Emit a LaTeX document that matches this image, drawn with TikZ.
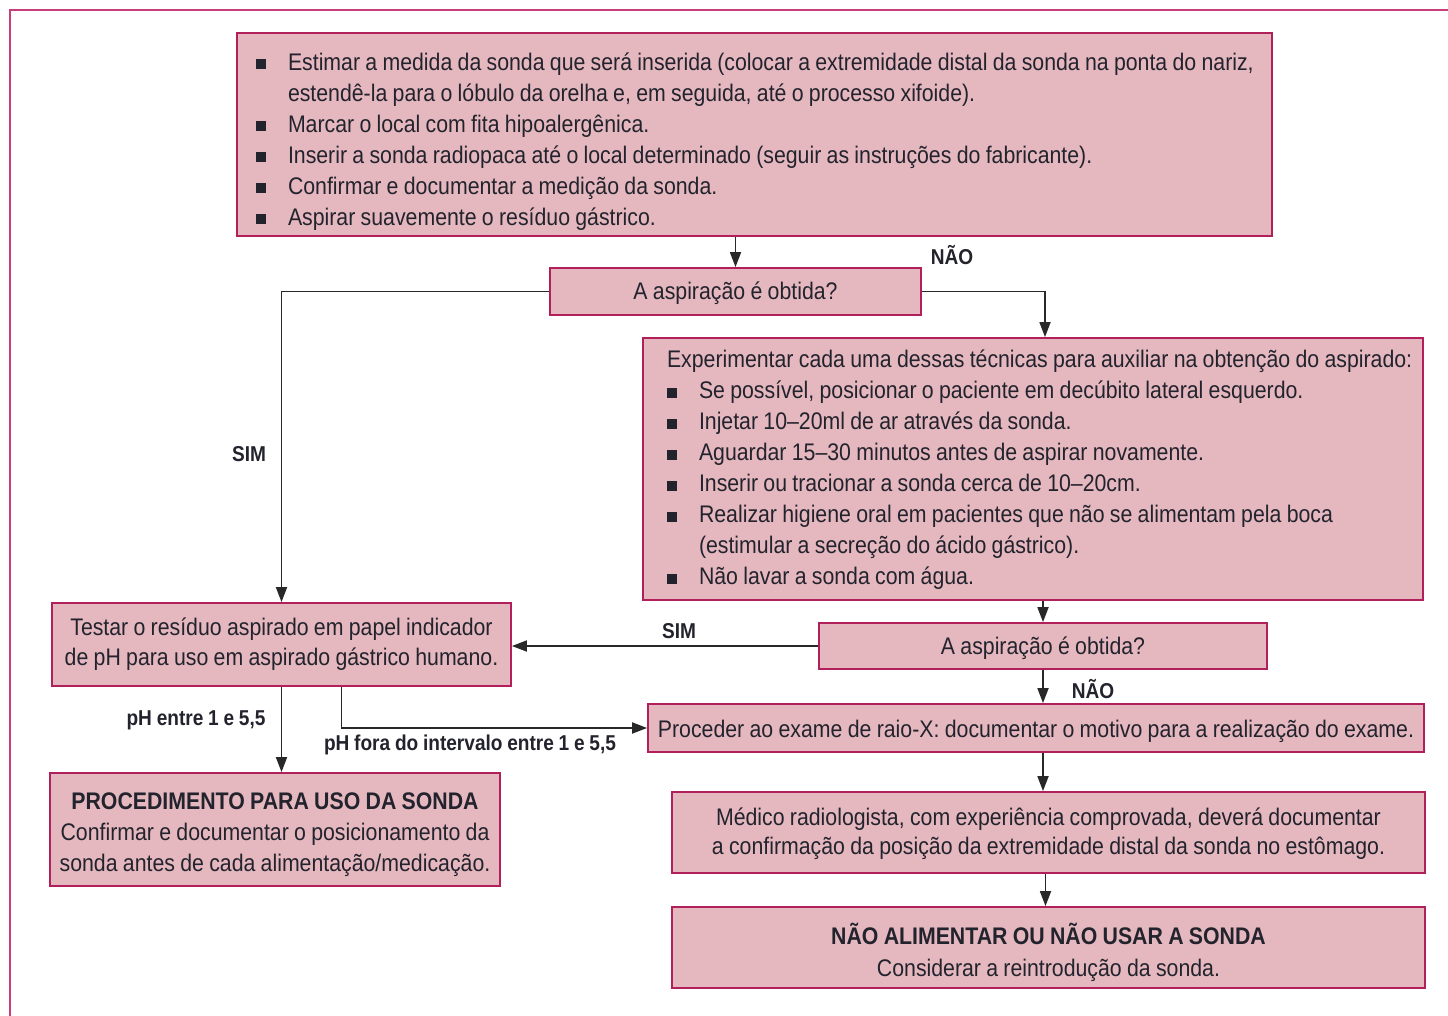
\documentclass[tikz,border=0pt]{standalone}
\usepackage{fontspec}
\setmainfont{Liberation Sans}[FakeStretch=0.887,WordSpace=0.9]
\usetikzlibrary{arrows.meta}
\definecolor{boxfill}{RGB}{229,184,191}
\definecolor{boxline}{RGB}{178,32,92}
\definecolor{frameline}{RGB}{200,62,125}
\definecolor{conn}{RGB}{40,40,40}
\definecolor{txt}{RGB}{35,35,45}
\newcommand{\bl}{\makebox[32pt][l]{\rule[1pt]{10pt}{10pt}}}
\newcommand{\lin}[1]{\mbox{\spaceskip=5.3pt\relax#1}}
\begin{document}
\begin{tikzpicture}[x=1pt,y=1pt,
  box/.style={draw=boxline, line width=1.8pt, fill=boxfill, inner sep=0pt},
  tx/.style={text=txt, inner sep=0pt, font=\fontsize{24}{31}\selectfont},
  lbl/.style={text=txt, inner sep=0pt, font=\fontsize{21.5}{26}\selectfont\bfseries},
  arr/.style={draw=conn, line width=1.8pt, -{Triangle[length=15pt,width=11pt]}},
  frm/.style={draw=frameline, line width=2.5pt}]
\useasboundingbox (0,0) rectangle (1448,-1016);
\draw[frm] (1448,-10) -- (10,-10) -- (10,-1016);

% boxes
\node[box, minimum width=1035pt, minimum height=203pt] (b1) at (754.5,-134.5) {};
\node[box, minimum width=371pt, minimum height=47pt] (b2) at (735.5,-291.5) {};
\node[box, minimum width=780pt, minimum height=262pt] (b3) at (1033,-469) {};
\node[box, minimum width=459pt, minimum height=83pt] (b4) at (281.5,-644.5) {};
\node[box, minimum width=448pt, minimum height=46pt] (b5) at (1043,-646) {};
\node[box, minimum width=776pt, minimum height=48pt] (b6) at (1036,-728) {};
\node[box, minimum width=450pt, minimum height=113pt] (b7) at (275,-829.5) {};
\node[box, minimum width=753pt, minimum height=81pt] (b8) at (1048.5,-832.5) {};
\node[box, minimum width=753pt, minimum height=81pt] (b9) at (1048.5,-947.5) {};

% texts
\node[tx, text width=997pt, align=left] (t1) at ([yshift=-7pt]b1.center)
 {\lin{\bl Estimar a medida da sonda que será inserida (colocar a extremidade distal da sonda na ponta do nariz,}\\
  \lin{\hspace*{32pt}estendê-la para o lóbulo da orelha e, em seguida, até o processo xifoide).}\\
  \lin{\bl Marcar o local com fita hipoalergênica.}\\
  \lin{\bl Inserir a sonda radiopaca até o local determinado (seguir as instruções do fabricante).}\\
  \lin{\bl Confirmar e documentar a medição da sonda.}\\
  \lin{\bl Aspirar suavemente o resíduo gástrico.}};

\node[tx] (t2) at ([yshift=-2pt]b2.center) {A aspiração é obtida?};

\node[tx, text width=732pt, align=left] (t3) at ([yshift=-1pt]b3.center)
 {\lin{Experimentar cada uma dessas técnicas para auxiliar na obtenção do aspirado:}\\
  \lin{\bl Se possível, posicionar o paciente em decúbito lateral esquerdo.}\\
  \lin{\bl Injetar 10–20ml de ar através da sonda.}\\
  \lin{\bl Aguardar 15–30 minutos antes de aspirar novamente.}\\
  \lin{\bl Inserir ou tracionar a sonda cerca de 10–20cm.}\\
  \lin{\bl Realizar higiene oral em pacientes que não se alimentam pela boca}\\
  \lin{\hspace*{32pt}(estimular a secreção do ácido gástrico).}\\
  \lin{\bl Não lavar a sonda com água.}};

\node[tx, align=center, font=\fontsize{24}{30}\selectfont] (t4) at (b4.center)
 {\lin{Testar o resíduo aspirado em papel indicador}\\\lin{de pH para uso em aspirado gástrico humano.}};

\node[tx] (t5) at ([yshift=-2pt]b5.center) {A aspiração é obtida?};

\node[tx] (t6) at ([yshift=-3pt]b6.center)
 {Proceder ao exame de raio-X: documentar o motivo para a realização do exame.};

\node[tx, align=center] (t7) at ([yshift=-5pt]b7.center)
 {\lin{\bfseries PROCEDIMENTO PARA USO DA SONDA}\\\lin{Confirmar e documentar o posicionamento da}\\\lin{sonda antes de cada alimentação/medicação.}};

\node[tx, align=center, font=\fontsize{24}{29}\selectfont] (t8) at ([yshift=-1pt]b8.center)
 {\lin{Médico radiologista, com experiência comprovada, deverá documentar}\\\lin{a confirmação da posição da extremidade distal da sonda no estômago.}};

\node[tx, align=center, font=\fontsize{24}{32}\selectfont] (t9) at ([yshift=-5pt]b9.center)
 {\lin{\bfseries NÃO ALIMENTAR OU NÃO USAR A SONDA}\\\lin{Considerar a reintrodução da sonda.}};

% connectors
\draw[arr] (b1.south -| b2.north) -- (b2.north);
\draw[arr] (b2.east) -| ([xshift=12pt]b3.north);
\draw[arr] (b2.west) -| (b4.north);
\draw[arr] (b3.south -| b5.north) -- (b5.north);
\draw[arr] (b5.west) -- (b5.west -| b4.east);
\draw[arr] (b5.south) -- (b5.south |- b6.north);
\draw[arr] (b4.south) -- (b4.south |- b7.north);
\draw[arr] ([xshift=60pt]b4.south) |- (b6.west);
\draw[arr] (b5.south |- b6.south) -- (b5.south |- b8.north);
\draw[arr] ([xshift=-3pt]b8.south) -- ([xshift=-3pt]b9.north);

% labels
\node[lbl] (l1) at (952,-255) {NÃO};
\node[lbl] (l2) at (249,-454) {SIM};
\node[lbl] (l3) at (679,-631) {SIM};
\node[lbl] (l4) at (1093,-689) {NÃO};
\node[lbl] (l5) at (196,-720) {pH entre 1 e 5,5};
\node[lbl] (l6) at (470,-745) {pH fora do intervalo entre 1 e 5,5};
\end{tikzpicture}
\end{document}
